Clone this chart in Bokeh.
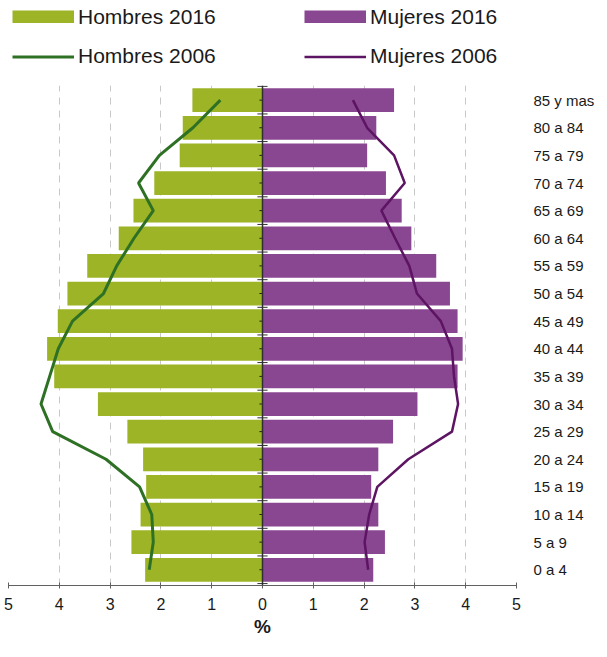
from bokeh.plotting import figure
from bokeh.layouts import column
from bokeh.models import Range1d, FixedTicker, Legend, LegendItem, Span
from bokeh.embed import file_html
from bokeh.resources import INLINE

grupos = ["0 a 4", "5 a 9", "10 a 14", "15 a 19", "20 a 24", "25 a 29",
          "30 a 34", "35 a 39", "40 a 44", "45 a 49", "50 a 54", "55 a 59",
          "60 a 64", "65 a 69", "70 a 74", "75 a 79", "80 a 84", "85 y mas"]
hombres_2016 = [2.31, 2.58, 2.40, 2.29, 2.35, 2.66, 3.24, 4.10, 4.24,
                4.03, 3.84, 3.45, 2.83, 2.54, 2.13, 1.63, 1.57, 1.38]
mujeres_2016 = [2.18, 2.41, 2.28, 2.14, 2.28, 2.57, 3.05, 3.84, 3.94,
                3.84, 3.69, 3.42, 2.93, 2.74, 2.43, 2.06, 2.24, 2.59]
hombres_2006 = [2.23, 2.15, 2.18, 2.42, 3.08, 4.13, 4.36, 4.19, 4.02,
                3.74, 3.13, 2.87, 2.53, 2.15, 2.44, 2.03, 1.37, 0.83]
mujeres_2006 = [2.08, 2.01, 2.10, 2.26, 2.87, 3.73, 3.85, 3.77, 3.73,
                3.51, 3.04, 2.89, 2.61, 2.34, 2.80, 2.59, 2.06, 1.78]
x_ticks = [-5, -4, -3, -2, -1, 0, 1, 2, 3, 4, 5]
x_tick_labels = ["5", "4", "3", "2", "1", "0", "1", "2", "3", "4", "5"]

VERDE = "#9cb426"
MORADO = "#894791"
VERDE_OSC = "#2e7125"
MORADO_OSC = "#5c1463"
FONT = "Liberation Sans"
TXT = "#1a1a1a"

idx = list(range(len(grupos)))

# ---------------- main chart ----------------
p = figure(frame_width=508, frame_height=500,
           x_range=Range1d(-5, 5), y_range=Range1d(-0.57, 17.53),
           output_backend="svg", toolbar_location=None,
           y_axis_location="right",
           min_border_left=8, min_border_top=0,
           min_border_right=0, min_border_bottom=0)
p.outline_line_color = None
p.background_fill_color = "white"

p.xgrid.ticker = FixedTicker(ticks=x_ticks)
p.xgrid.grid_line_color = "#c8c8c8"
p.xgrid.grid_line_dash = "7 6"
p.xgrid.grid_line_width = 1
p.ygrid.visible = False

p.hbar(y=idx, left=[-v for v in hombres_2016], right=0, height=0.86,
       fill_color=VERDE, line_color=None)
p.hbar(y=idx, left=0, right=mujeres_2016, height=0.86,
       fill_color=MORADO, line_color=None)

p.add_layout(Span(location=0, dimension="height", line_color="#303030",
                  line_width=1.5))
bounds = [i - 0.5 for i in range(len(grupos) + 1)]
p.segment(x0=[-0.1] * len(bounds), x1=[0.1] * len(bounds), y0=bounds, y1=bounds,
          line_color="#303030", line_width=1)
p.segment(x0=[-0.06] * len(idx), x1=[0] * len(idx), y0=idx, y1=idx,
          line_color="#202020", line_width=1)

p.line(x=[-v for v in hombres_2006], y=idx, line_color=VERDE_OSC, line_width=3)
p.line(x=mujeres_2006, y=idx, line_color=MORADO_OSC, line_width=2.5)

xa = p.xaxis[0]
xa.ticker = FixedTicker(ticks=x_ticks)
xa.major_label_overrides = {t: l for t, l in zip(x_ticks, x_tick_labels)}
xa.axis_line_color = "#606060"
xa.major_tick_line_color = "#606060"
xa.major_tick_in = 3
xa.major_tick_out = 3
xa.minor_tick_line_color = None
xa.major_label_standoff = 9
xa.major_label_text_font = FONT
xa.major_label_text_font_size = "16px"
xa.major_label_text_color = TXT
xa.axis_label = "%"
xa.axis_label_text_font = FONT
xa.axis_label_text_font_size = "19px"
xa.axis_label_text_font_style = "bold"
xa.axis_label_text_color = TXT
xa.axis_label_standoff = 3

ya = p.yaxis[0]
ya.ticker = FixedTicker(ticks=idx)
ya.major_label_overrides = {i: g for i, g in zip(idx, grupos)}
ya.axis_line_color = None
ya.major_tick_line_color = None
ya.minor_tick_line_color = None
ya.major_label_standoff = 11
ya.major_label_text_font = FONT
ya.major_label_text_font_size = "15px"
ya.major_label_text_color = TXT

# ---------------- legend strip ----------------
lg = figure(width=589, height=85, x_range=Range1d(-100, -99), y_range=Range1d(0, 1),
            output_backend="svg", toolbar_location=None,
            x_axis_location=None, y_axis_location=None, min_border=0)
lg.outline_line_color = None
lg.grid.visible = False
# legend proxies (their data lie outside this strip's visible range)
sw_h16 = lg.line(x=hombres_2016, y=idx, line_color=VERDE, line_width=13, line_cap="butt")
sw_m16 = lg.line(x=mujeres_2016, y=idx, line_color=MORADO, line_width=13, line_cap="butt")
sw_h06 = lg.line(x=hombres_2006, y=idx, line_color=VERDE_OSC, line_width=3)
sw_m06 = lg.line(x=mujeres_2006, y=idx, line_color=MORADO_OSC, line_width=2.5)

common = dict(orientation="horizontal", padding=0, margin=0,
              border_line_color=None, background_fill_alpha=0,
              glyph_width=62, glyph_height=13, label_height=13,
              label_width=200, label_standoff=4, spacing=26,
              label_text_font=FONT, label_text_font_size="21px",
              label_text_color=TXT)
leg_a = Legend(items=[LegendItem(label="Hombres 2016", renderers=[sw_h16]),
                      LegendItem(label="Mujeres 2016", renderers=[sw_m16])],
               location=(4, 56.5), **common)
leg_b = Legend(items=[LegendItem(label="Hombres 2006", renderers=[sw_h06]),
                      LegendItem(label="Mujeres 2006", renderers=[sw_m06])],
               location=(4, 17), **common)
lg.add_layout(leg_a)
lg.add_layout(leg_b)

layout = column(lg, p, spacing=0)
open("out.html", "w").write(file_html(layout, INLINE))
